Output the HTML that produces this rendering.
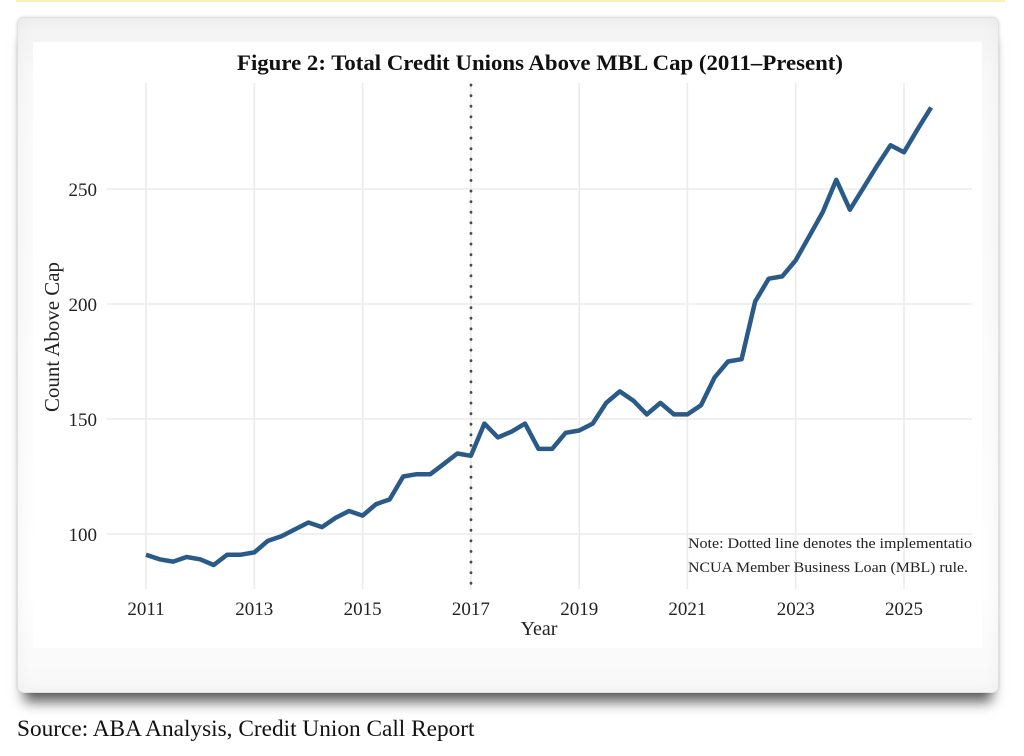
<!DOCTYPE html>
<html>
<head>
<meta charset="utf-8">
<style>
  html, body { margin:0; padding:0; background:#ffffff; }
  body { width:1024px; height:756px; position:relative; overflow:hidden; font-family:"Liberation Serif", serif; }
  .topline { position:absolute; left:16px; top:0; width:989px; height:2px; background:#fbefb8; }
  .card { position:absolute; left:17px; top:17px; width:982px; height:676px; border-radius:7px;
          background:linear-gradient(#f2f2f2, #f9f9f9 10%, #fefefe 85%, #f8f8f8); border:1px solid #e0e0e0; box-sizing:border-box;
          box-shadow: 0 0 3px rgba(0,0,0,0.15), 0 16px 12px -7px rgba(0,0,0,0.62), inset 0 0 16px rgba(0,0,0,0.045); }
  .inner { position:absolute; left:33px; top:42px; width:949px; height:606px; background:#ffffff; }
  svg { position:absolute; left:0; top:0; }
  .src { position:absolute; left:17px; top:715px; font-size:23.3px; line-height:28px; color:#111; white-space:nowrap; }
</style>
</head>
<body>
<div class="topline"></div>
<div class="card"></div>
<div class="inner"></div>
<svg width="1024" height="756" viewBox="0 0 1024 756" xmlns="http://www.w3.org/2000/svg">
  <defs>
    <clipPath id="pc"><rect x="100" y="40" width="872" height="600"/></clipPath>
  </defs>
  <g stroke="#ebebeb" stroke-width="1.6">
    <line x1="107" y1="189" x2="972" y2="189"/>
    <line x1="107" y1="304" x2="972" y2="304"/>
    <line x1="107" y1="419" x2="972" y2="419"/>
    <line x1="107" y1="534" x2="972" y2="534"/>
    <line x1="146" y1="83" x2="146" y2="589"/>
    <line x1="254.3" y1="83" x2="254.3" y2="589"/>
    <line x1="362.6" y1="83" x2="362.6" y2="589"/>
    <line x1="470.9" y1="83" x2="470.9" y2="589"/>
    <line x1="579.2" y1="83" x2="579.2" y2="589"/>
    <line x1="687.4" y1="83" x2="687.4" y2="589"/>
    <line x1="795.7" y1="83" x2="795.7" y2="589"/>
    <line x1="904" y1="83" x2="904" y2="589"/>
  </g>
  <line x1="471" y1="85" x2="471" y2="590" stroke="#4a4a4a" stroke-width="2.8" stroke-dasharray="0.1 10.5" stroke-linecap="round"/>
  <polyline fill="none" stroke="#2a5a88" stroke-width="4.5" stroke-linejoin="round" stroke-linecap="butt"
    points="146.0,554.7 159.5,559.3 173.1,561.6 186.6,557.0 200.1,559.3 213.7,565.0 227.2,554.7 240.8,554.7 254.3,552.4 267.8,540.9 281.4,536.3 294.9,529.4 308.4,522.5 322.0,527.1 335.5,517.9 349.0,511.0 362.6,515.6 376.1,504.1 389.6,499.5 403.2,476.5 416.7,474.2 430.3,474.2 443.8,463.9 457.3,453.5 470.9,455.8 484.4,423.6 497.9,437.4 511.5,431.7 525.0,423.6 538.5,448.9 552.1,448.9 565.6,432.8 579.2,430.5 592.7,423.6 606.2,402.9 619.8,391.4 633.3,400.6 646.8,414.4 660.4,402.9 673.9,414.4 687.4,414.4 701.0,405.2 714.5,377.6 728.0,361.5 741.6,359.2 755.1,301.7 768.7,278.7 782.2,276.4 795.7,260.3 809.3,236.2 822.8,212.0 836.3,179.8 849.9,209.7 863.4,187.9 876.9,166.0 890.5,145.3 904.0,152.2 917.6,129.2 931.1,107.4"/>
  <text x="540" y="70" text-anchor="middle" font-family="Liberation Serif, serif" font-weight="bold" font-size="22" fill="#111" textLength="606" lengthAdjust="spacingAndGlyphs">Figure 2: Total Credit Unions Above MBL Cap (2011–Present)</text>
  <g font-family="Liberation Serif, serif" font-size="19" fill="#222" text-anchor="end">
    <text x="97" y="196">250</text>
    <text x="97" y="311">200</text>
    <text x="97" y="426">150</text>
    <text x="97" y="541">100</text>
  </g>
  <g font-family="Liberation Serif, serif" font-size="19" fill="#222" text-anchor="middle">
    <text x="146" y="615">2011</text>
    <text x="254.3" y="615">2013</text>
    <text x="362.6" y="615">2015</text>
    <text x="470.9" y="615">2017</text>
    <text x="579.2" y="615">2019</text>
    <text x="687.4" y="615">2021</text>
    <text x="795.7" y="615">2023</text>
    <text x="904" y="615">2025</text>
  </g>
  <text x="539" y="635" text-anchor="middle" font-family="Liberation Serif, serif" font-size="20" fill="#222">Year</text>
  <text transform="translate(59,337) rotate(-90)" x="0" y="0" text-anchor="middle" font-family="Liberation Serif, serif" font-size="21" fill="#222" textLength="150" lengthAdjust="spacingAndGlyphs">Count Above Cap</text>
  <g clip-path="url(#pc)" font-family="Liberation Serif, serif" font-size="15" fill="#222">
    <text x="688" y="548" textLength="284" lengthAdjust="spacingAndGlyphs">Note: Dotted line denotes the implementatio</text>
    <text x="688" y="572" textLength="280" lengthAdjust="spacingAndGlyphs">NCUA Member Business Loan (MBL) rule.</text>
  </g>
</svg>
<div class="src">Source: ABA Analysis, Credit Union Call Report</div>
</body>
</html>
